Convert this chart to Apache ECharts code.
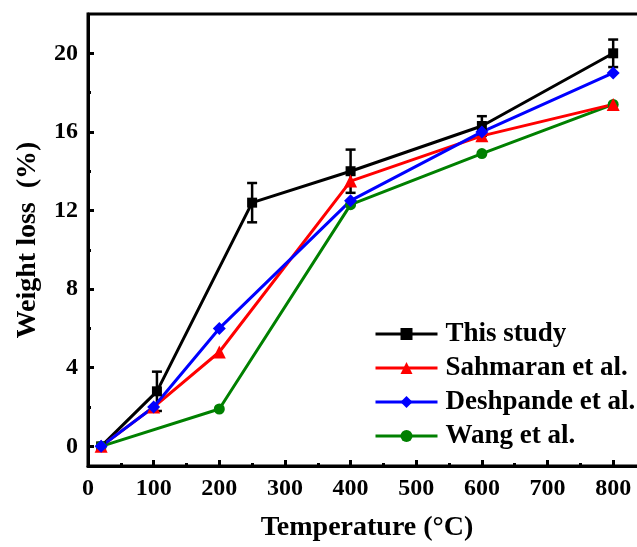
<!DOCTYPE html>
<html>
<head>
<meta charset="utf-8">
<script src="https://cdn.jsdelivr.net/npm/echarts@6/dist/echarts.min.js"></script>
<style>
html,body{margin:0;padding:0;background:#fff;}
#c{width:637px;height:547px;}
</style>
</head>
<body>
<div id="c"></div>
<script>
// ---- data ----
const thisStudyX = [20, 105, 250, 400, 600, 800];
const thisStudyY = [0, 2.8, 12.4, 14.0, 16.3, 20.0];
const thisStudyErr = [0, 1.0, 1.0, 1.1, 0.5, 0.7];
const sahmaranX = [20, 100, 200, 400, 600, 800];
const sahmaranY = [0, 2.0, 4.8, 13.5, 15.8, 17.4];
const deshpandeX = [20, 100, 200, 400, 600, 800];
const deshpandeY = [0, 2.0, 6.0, 12.5, 16.0, 19.0];
const wangX = [20, 200, 400, 600, 800];
const wangY = [0, 1.9, 12.3, 14.9, 17.4];
const xTicks = [0, 100, 200, 300, 400, 500, 600, 700, 800];
const xMinorTicks = [50, 150, 250, 350, 450, 550, 650, 750];
const yTicks = [0, 4, 8, 12, 16, 20];
const yMinorTicks = [2, 6, 10, 14, 18];
const seriesNames = ['This study', 'Sahmaran et al.', 'Deshpande et al.', 'Wang et al.'];

const zip = (xs, ys) => xs.map((x, i) => [x, ys[i]]);
const FONT = 'Liberation Serif';

const chart = echarts.init(document.getElementById('c'), null, {renderer: 'canvas'});

const errData = thisStudyX.map((x, i) => [x, thisStudyY[i] - thisStudyErr[i], thisStudyY[i] + thisStudyErr[i]]);

const lineSeries = (name, data, color, symbol, size) => ({
  name, type: 'line', data, symbol, symbolSize: size,
  xAxisIndex: 0, yAxisIndex: 0,
  lineStyle: {color, width: 3},
  itemStyle: {color},
  emphasis: {disabled: true},
  animation: false
});

chart.setOption({
  animation: false,
  textStyle: {fontFamily: FONT},
  grid: {left: 88, top: 14, width: 558, height: 452, outerBoundsMode: 'none', containLabel: false,
         show: true, borderColor: '#000', borderWidth: 3, backgroundColor: 'transparent'},
  legend: {
    left: 374, top: 320, orient: 'vertical', padding: 0,
    itemWidth: 62, itemHeight: 15, itemGap: 6,
    data: seriesNames,
    lineStyle: {width: 3},
    textStyle: {fontFamily: FONT, fontWeight: 'bold', fontSize: 27, color: '#000', lineHeight: 28, padding: [0, 0, 0, 3]},
  },
  xAxis: [{
    type: 'value', min: 0, max: 850, position: 'bottom',
    name: 'Temperature (°C)', nameLocation: 'middle', nameGap: 48,
    nameTextStyle: {fontFamily: FONT, fontWeight: 'bold', fontSize: 28, color: '#000'},
    axisLine: {show: true, onZero: false, lineStyle: {color: '#000', width: 3}},
    axisTick: {show: true, inside: true, length: 6, lineStyle: {color: '#000', width: 3}, customValues: xTicks},
    axisLabel: {show: true, customValues: xTicks, margin: 11, fontFamily: FONT, fontWeight: 'bold', fontSize: 24, color: '#000'},
    splitLine: {show: false}
  }, {
    type: 'value', min: 0, max: 850, position: 'bottom', gridIndex: 0,
    axisLine: {show: false, onZero: false},
    axisTick: {show: true, inside: true, length: 3, lineStyle: {color: '#000', width: 3}, customValues: xMinorTicks},
    axisLabel: {show: false},
    splitLine: {show: false}
  }],
  yAxis: [{
    type: 'value', min: -1, max: 22, position: 'left',
    name: 'Weight loss  (%)', nameLocation: 'middle', nameGap: 46, nameRotate: 90,
    nameTextStyle: {fontFamily: FONT, fontWeight: 'bold', fontSize: 28, color: '#000'},
    axisLine: {show: true, onZero: false, lineStyle: {color: '#000', width: 3}},
    axisTick: {show: true, inside: true, length: 6, lineStyle: {color: '#000', width: 3}, customValues: yTicks},
    axisLabel: {show: true, customValues: yTicks, margin: 10, fontFamily: FONT, fontWeight: 'bold', fontSize: 24, color: '#000'},
    splitLine: {show: false}
  }, {
    type: 'value', min: -1, max: 22, position: 'left', gridIndex: 0,
    axisLine: {show: false, onZero: false},
    axisTick: {show: true, inside: true, length: 3, lineStyle: {color: '#000', width: 3}, customValues: yMinorTicks},
    axisLabel: {show: false},
    splitLine: {show: false}
  }],
  series: [
    {
      name: 'err', type: 'custom', xAxisIndex: 0, yAxisIndex: 0, z: 3,
      data: errData,
      renderItem: function (params, api) {
        const x = api.value(0);
        const lo = api.coord([x, api.value(1)]);
        const hi = api.coord([x, api.value(2)]);
        const cap = 5;
        const st = {stroke: '#000', lineWidth: 2.5};
        return {type: 'group', children: [
          {type: 'line', shape: {x1: lo[0], y1: lo[1], x2: hi[0], y2: hi[1]}, style: st},
          {type: 'line', shape: {x1: lo[0] - cap, y1: lo[1], x2: lo[0] + cap, y2: lo[1]}, style: st},
          {type: 'line', shape: {x1: hi[0] - cap, y1: hi[1], x2: hi[0] + cap, y2: hi[1]}, style: st}
        ]};
      },
      silent: true
    },
    lineSeries('This study', zip(thisStudyX, thisStudyY), '#000000', 'rect', 10),
    lineSeries('Wang et al.', zip(wangX, wangY), '#008000', 'circle', 11),
    lineSeries('Sahmaran et al.', zip(sahmaranX, sahmaranY), '#ff0000', 'triangle', 13),
    lineSeries('Deshpande et al.', zip(deshpandeX, deshpandeY), '#0000ff', 'diamond', 13)
  ]
});
</script>
</body>
</html>
